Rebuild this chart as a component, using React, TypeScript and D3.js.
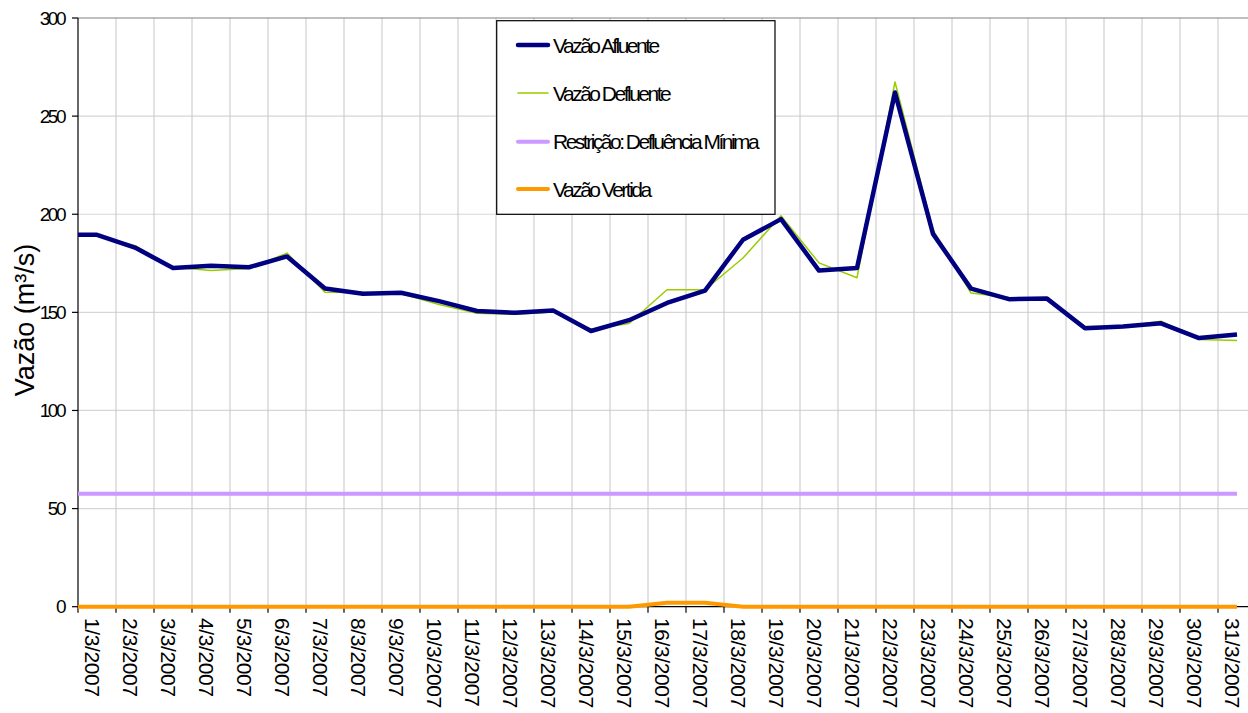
import { useMemo } from "react";
import * as d3 from "d3";

const days = d3.range(1, 32).map((d) => `${d}/3/2007`);

// Vazão Afluente (m³/s)
const afluente = [
  189.5, 183, 172.6, 173.8, 173, 178.5, 162.2, 159.5, 160, 155.7, 150.7,
  149.8, 151, 140.5, 146, 154.8, 161.1, 187, 197.5, 171.3, 172.6, 262,
  190, 162.1, 156.7, 157, 141.9, 142.8, 144.4, 136.9, 138.7,
];

// Vazão Defluente (m³/s)
const defluente = [
  189, 184, 173, 171.3, 172.3, 180.2, 160.3, 160.1, 159.6, 154, 149.5,
  149, 150.2, 141.4, 144.3, 161.5, 161.5, 177.7, 199.2, 175.2, 167.6, 267.4,
  192, 159.8, 157.6, 157, 142.8, 142.8, 145.5, 136.2, 135.7,
];

// Restrição: Defluência Mínima
const defluenciaMinima = days.map(() => 57.5);

// Vazão Vertida
const vertida = [
  0, 0, 0, 0, 0, 0, 0, 0, 0, 0, 0, 0, 0, 0, 0, 2, 2, 0, 0, 0, 0, 0, 0, 0,
  0, 0, 0, 0, 0, 0, 0,
];

const yTicks = [0, 50, 100, 150, 200, 250, 300];

const series = [
  { name: "Vazão Afluente", values: afluente, color: "#000080", width: 4.5 },
  { name: "Vazão Defluente", values: defluente, color: "#99cc00", width: 1.5 },
  { name: "Restrição: Defluência Mínima", values: defluenciaMinima, color: "#cc99ff", width: 4 },
  { name: "Vazão Vertida", values: vertida, color: "#ff9900", width: 4 },
];

const W = 1248;
const H = 713;
const left = 78;
const bandW = 38;
const top = 18;
const bottom = 606.7;
const font = "'Liberation Sans', Arial, Helvetica, sans-serif";

export default function App() {
  const x = useMemo(
    () => d3.scaleBand<string>().domain(days).range([left, left + days.length * bandW]),
    []
  );
  const y = useMemo(() => d3.scaleLinear().domain([0, 300]).range([bottom, top]), []);
  const cx = (d: string) => (x(d) ?? 0) + x.bandwidth() / 2;
  const [x0, x1] = x.range();

  // the chart extends each series to the axis edge with its first value
  const line = d3
    .line<[number, number]>()
    .x((p) => p[0])
    .y((p) => y(p[1]));
  const pathFor = (vals: number[]) =>
    line([[x0, vals[0]] as [number, number], ...vals.map((v, i) => [cx(days[i]), v] as [number, number])]) ?? "";

  const legend = { x: 496.7, y: 20.7, w: 278.3, h: 193.6 };
  const legendRows = [45, 93, 141.7, 189];

  return (
    <svg
      width={W}
      height={H}
      style={{ position: "absolute", left: 0, top: 0, background: "#fff", display: "block" }}
      fontFamily={font}
    >
      {/* horizontal gridlines */}
      {yTicks.slice(1, -1).map((t) => (
        <line key={t} x1={x0} x2={x1} y1={y(t)} y2={y(t)} stroke="#d6d6d6" strokeWidth={1.2} />
      ))}
      {/* vertical gridlines */}
      {days.slice(1).map((d) => (
        <line key={d} x1={x(d)} x2={x(d)} y1={top} y2={bottom} stroke="#c6c6c6" strokeWidth={1} />
      ))}
      {/* top border */}
      <line x1={x0} x2={x1} y1={y(300)} y2={y(300)} stroke="#808080" strokeWidth={1.2} />

      {/* axes */}
      <line x1={x0} x2={x0} y1={top} y2={bottom} stroke="#000" strokeWidth={1.2} />
      <line x1={x0} x2={x1} y1={bottom} y2={bottom} stroke="#000" strokeWidth={1.2} />
      {days.map((d) => (
        <line key={d} x1={x(d)} x2={x(d)} y1={bottom} y2={bottom + 6} stroke="#000" strokeWidth={1.2} />
      ))}

      {/* series */}
      {series
        .slice()
        .reverse()
        .map((s) => (
          <path
            key={s.name}
            d={pathFor(s.values)}
            fill="none"
            stroke={s.color}
            strokeWidth={s.width}
            strokeLinejoin="round"
          />
        ))}

      {yTicks.map((t) => (
        <g key={t}>
          <line x1={x0 - 6} x2={x0} y1={y(t)} y2={y(t)} stroke="#000" strokeWidth={1.2} />
          <text
            x={64}
            y={y(t)}
            textAnchor="end"
            dominantBaseline="central"
            fontSize={19}
            letterSpacing={-2.5}
            fill="#000"
          >
            {t}
          </text>
        </g>
      ))}
      {days.map((d) => (
        <text
          key={d}
          transform={`translate(${cx(d) - 5},618) rotate(90)`}
          dominantBaseline="central"
          fontSize={21}
          letterSpacing={-0.4}
          fill="#000"
        >
          {d}
        </text>
      ))}
      <text
        transform={`translate(25,320) rotate(-90)`}
        textAnchor="middle"
        dominantBaseline="central"
        fontSize={27}
        fill="#000"
      >
        Vazão (m³/s)
      </text>

      {/* legend */}
      <rect x={legend.x} y={legend.y} width={legend.w} height={legend.h} fill="#fff" stroke="#000" strokeWidth={1.2} />
      {series.map((s, i) => (
        <g key={s.name}>
          <line
            x1={518}
            x2={548}
            y1={legendRows[i]}
            y2={legendRows[i]}
            stroke={s.color}
            strokeWidth={s.width}
            strokeLinecap="round"
          />
          <text
            x={553}
            y={legendRows[i]}
            dominantBaseline="central"
            fontSize={21}
            letterSpacing={-2.5}
            fill="#000"
          >
            {s.name}
          </text>
        </g>
      ))}
    </svg>
  );
}
